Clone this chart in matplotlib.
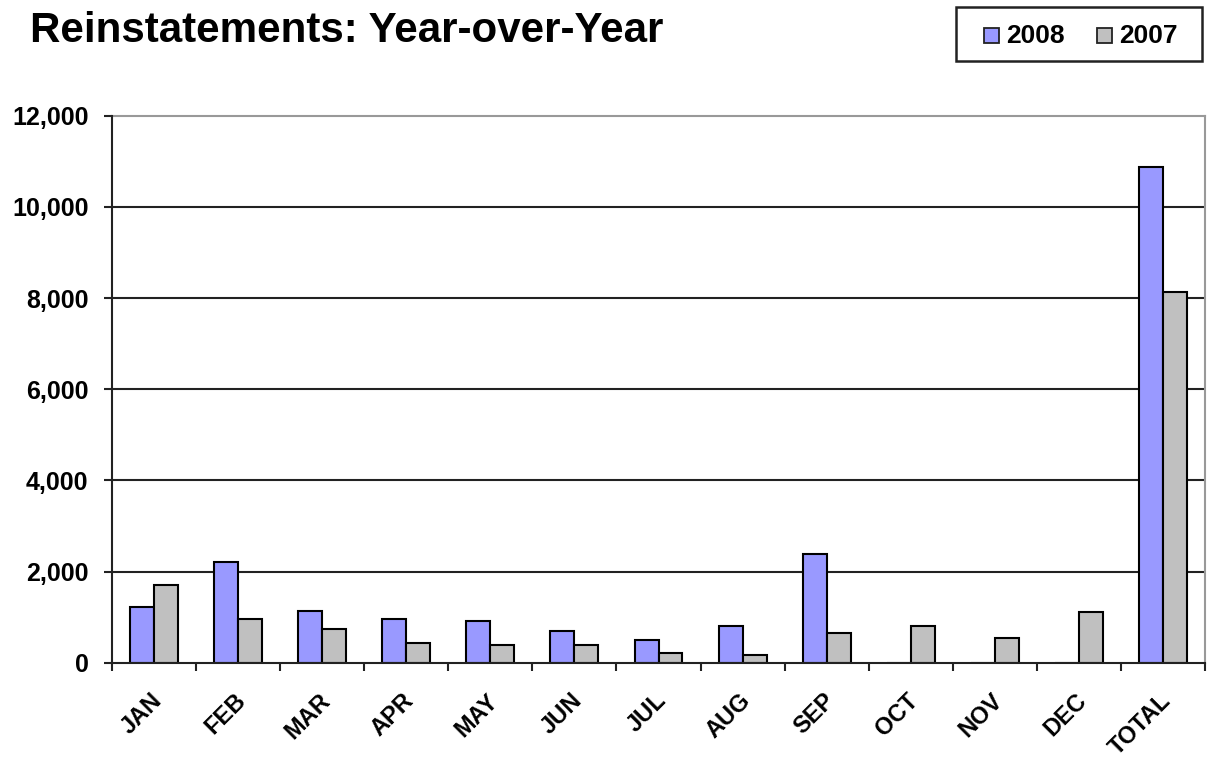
import matplotlib
matplotlib.use("Agg")
import matplotlib.pyplot as plt
from matplotlib.patches import Rectangle
import matplotlib.transforms as mtransforms
import numpy as np

plt.rcParams['font.family'] = ['Liberation Sans', 'DejaVu Sans']
plt.rcParams['font.weight'] = 'bold'

categories = ["JAN", "FEB", "MAR", "APR", "MAY", "JUN", "JUL", "AUG", "SEP",
              "OCT", "NOV", "DEC", "TOTAL"]
vals_2008 = [1215, 2220, 1130, 955, 910, 700, 490, 815, 2390, 0, 0, 0, 10880]
vals_2007 = [1700, 955, 740, 435, 390, 395, 210, 170, 650, 815, 540, 1105, 8130]
yticks = [0, 2000, 4000, 6000, 8000, 10000, 12000]
ytick_labels = ["0", "2,000", "4,000", "6,000", "8,000", "10,000", "12,000"]
series_names = ["2008", "2007"]

c2008 = "#9999FF"
c2007 = "#C0C0C0"

W, H = 1207, 760
fig = plt.figure(figsize=(W/100, H/100), dpi=100)
ax = fig.add_axes([112/W, 1-662.7/H, (1205-112)/W, (662.7-115.7)/H])

x = np.arange(len(categories))
w = 0.285
ax.bar(x - w/2, vals_2008, w, color=c2008, edgecolor="black", linewidth=1.5, zorder=3)
ax.bar(x + w/2, vals_2007, w, color=c2007, edgecolor="black", linewidth=1.5, zorder=3)

ax.set_xlim(-0.5, len(categories) - 0.5)
ax.set_ylim(0, 12000)

for yv in yticks[1:-1]:
    ax.axhline(yv, color="#222222", linewidth=1.5, zorder=1)

ax.set_yticks(yticks)
ax.set_yticklabels(ytick_labels, fontsize=18, fontweight="bold")
ax.tick_params(axis="y", direction="out", length=6, width=1.5, color="#222222", pad=11)

ax.set_xticks(x)
ax.set_xticklabels(categories, rotation=45, ha="right", rotation_mode="anchor",
                   fontsize=17, fontweight="bold")
ax.tick_params(axis="x", which="major", length=0, pad=19)
offset = mtransforms.ScaledTranslation(-4/100, 0, fig.dpi_scale_trans)
for lab in ax.get_xticklabels():
    lab.set_transform(lab.get_transform() + offset)
ax.set_xticks(np.arange(-0.5, len(categories), 1), minor=True)
ax.tick_params(axis="x", which="minor", direction="out", length=6, width=1.5, color="#222222")

for s in ["left", "bottom"]:
    ax.spines[s].set_color("#222222")
    ax.spines[s].set_linewidth(1.5)
for s in ["top", "right"]:
    ax.spines[s].set_color("#999999")
    ax.spines[s].set_linewidth(1.5)
ax.spines["left"].set_zorder(4)
ax.spines["bottom"].set_zorder(4)

fig.text(30/W, 1-42/H, "Reinstatements: Year-over-Year", fontsize=30.3,
         fontweight="bold", ha="left", va="baseline")

# legend drawn manually in figure pixel layout
def fx(px):
    return px / W

def fy(py):
    return 1 - py / H

fig.add_artist(Rectangle((fx(956), fy(61)), fx(1202) - fx(956), fy(7) - fy(61),
                         transform=fig.transFigure, facecolor="white",
                         edgecolor="#222222", linewidth=1.8))
for mx, tx, col, name in [(984, 1006, c2008, series_names[0]),
                          (1097, 1119, c2007, series_names[1])]:
    fig.add_artist(Rectangle((fx(mx), fy(43)), fx(mx + 15) - fx(mx), fy(28) - fy(43),
                             transform=fig.transFigure, facecolor=col,
                             edgecolor="#222222", linewidth=1.3))
    fig.text(fx(tx), fy(43), name, fontsize=19, fontweight="bold",
             ha="left", va="baseline")

fig.savefig("out.png", dpi=100, facecolor="white")
